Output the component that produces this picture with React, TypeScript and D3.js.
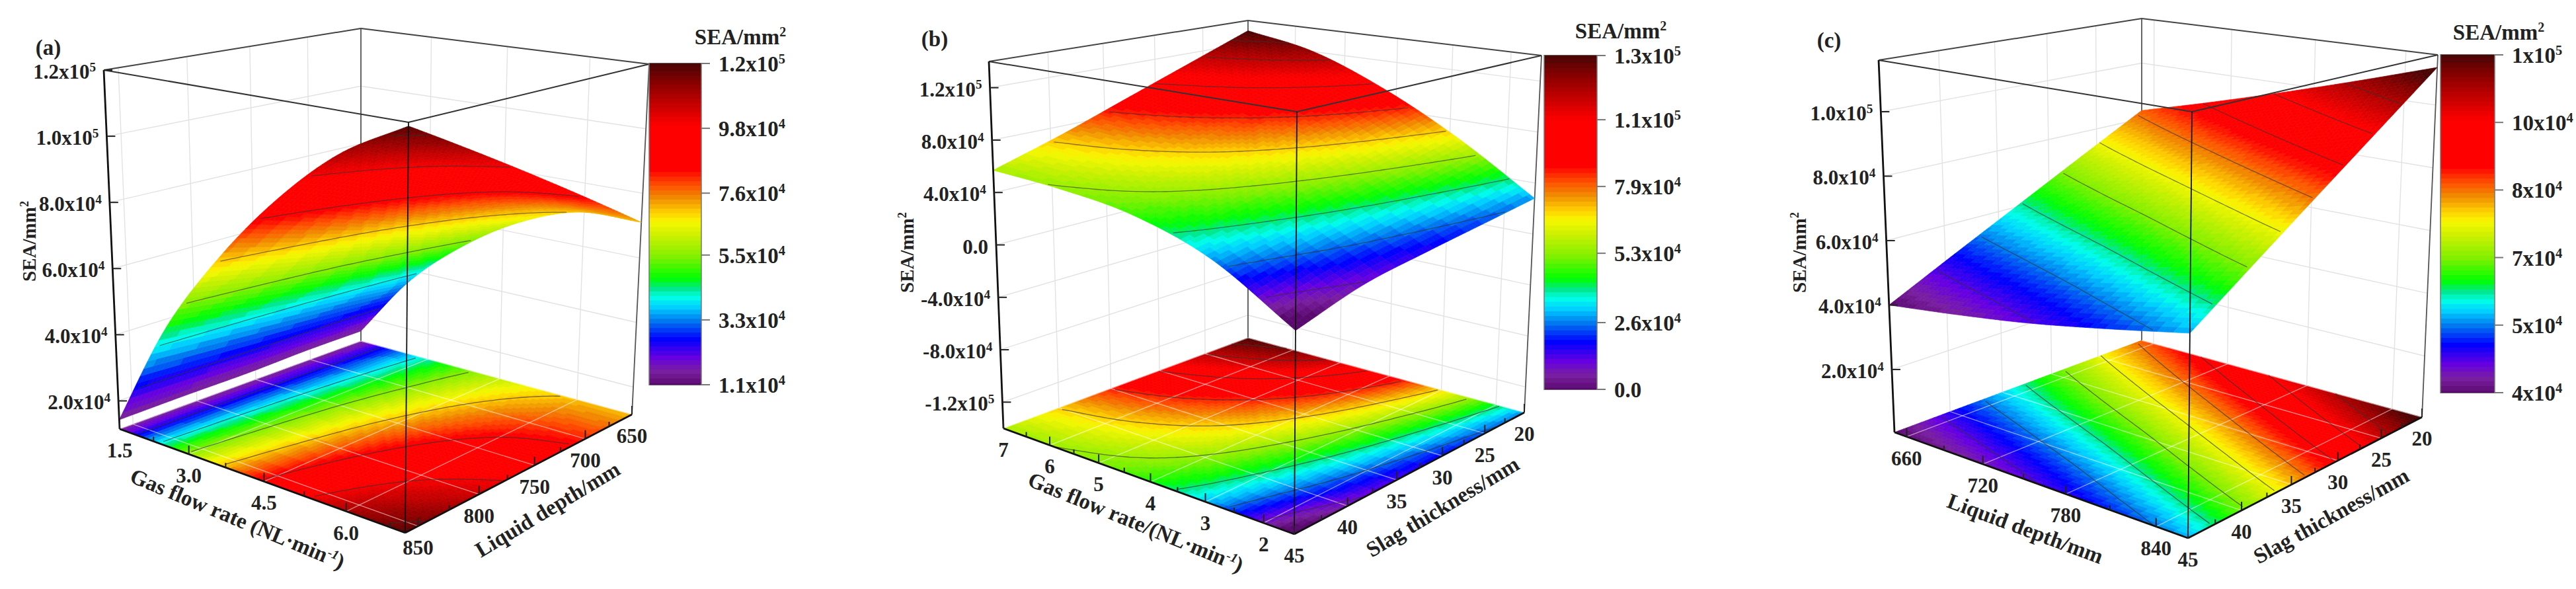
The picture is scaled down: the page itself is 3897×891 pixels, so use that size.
import React, { useEffect, useRef } from 'react';
import * as d3 from 'd3';

type Pt = [number, number];

// colour map
const colorStops = [0, 0.045, 0.086, 0.144, 0.2, 0.243, 0.274, 0.3, 0.333, 0.4, 0.463, 0.508, 0.538, 0.58, 0.628, 0.67, 0.806, 0.88, 0.95, 1];
const colorValues = ['#5a0a6e', '#7a1fa2', '#6600e0', '#0000ff', '#0078ef', '#00d0ff', '#00ffe8', '#00e890', '#00ff00', '#80f000', '#c8f000', '#f8f800', '#ffd000', '#f09000', '#ff4800', '#ff0000', '#ff0000', '#c00000', '#800000', '#4a0505'];

// panel (a)
const gasA = [1.5, 2.6, 3.7, 4.8, 5.9, 7];
const depthA = [650, 702.5, 755, 807.5, 860];
const seaA = [
  [1.5e4, 3.65e4, 5.2e4, 6.35e4, 7.05e4, 7.1e4],
  [1.5e4, 3.9e4, 5.65e4, 7.05e4, 7.95e4, 8.3e4],
  [1.45e4, 4.15e4, 6.15e4, 7.75e4, 8.9e4, 9.5e4],
  [1.45e4, 4.4e4, 6.6e4, 8.45e4, 9.85e4, 1.07e5],
  [1.43e4, 4.65e4, 7.1e4, 9.15e4, 1.08e5, 1.19e5],
];
const zTicksA = [2e4, 4e4, 6e4, 8e4, 1e5, 1.2e5];
const zLabelsA = ['2.0x10^4', '4.0x10^4', '6.0x10^4', '8.0x10^4', '1.0x10^5', '1.2x10^5'];
const levelsA = [2.5e4, 4e4, 5.5e4, 7e4, 8.5e4, 1e5, 1.15e5];
const barTicksA = [1.1e4, 3.3e4, 5.5e4, 7.6e4, 9.8e4, 1.2e5];
const barLabelsA = ['1.1x10^4', '3.3x10^4', '5.5x10^4', '7.6x10^4', '9.8x10^4', '1.2x10^5'];

// panel (b)
const gasB = [1.5, 2.875, 4.25, 5.625, 7];
const slagB = [20, 26.25, 32.5, 38.75, 45];
const seaB = [
  [2.8e4, 6.6e4, 9.7e4, 1.2e5, 1.31e5],
  [2.2e4, 5.6e4, 8.4e4, 1.02e5, 1.12e5],
  [1.6e4, 4.7e4, 7.1e4, 8.5e4, 9.3e4],
  [0.9e4, 3.8e4, 5.9e4, 6.9e4, 7.4e4],
  [-5e3, 2.9e4, 4.7e4, 5.4e4, 5.7e4],
];
const zTicksB = [-1.2e5, -8e4, -4e4, 0, 4e4, 8e4, 1.2e5];
const zLabelsB = ['-1.2x10^5', '-8.0x10^4', '-4.0x10^4', '0.0', '4.0x10^4', '8.0x10^4', '1.2x10^5'];
const levelsB = [1e4, 2.5e4, 4e4, 5.5e4, 7e4, 8.5e4, 1e5, 1.15e5, 1.25e5];
const barTicksB = [0, 2.6e4, 5.3e4, 7.9e4, 1.05e5, 1.3e5];
const barLabelsB = ['0.0', '2.6x10^4', '5.3x10^4', '7.9x10^4', '1.1x10^5', '1.3x10^5'];

// panel (c)
const depthC = [650, 702.5, 755, 807.5, 860];
const slagC = [20, 26.25, 32.5, 38.75, 45];
const seaC = [
  [8.3e4, 8.95e4, 9.65e4, 1.04e5, 1.12e5],
  [7.23e4, 7.79e4, 8.4e4, 9.08e4, 9.8e4],
  [6.15e4, 6.63e4, 7.15e4, 7.75e4, 8.4e4],
  [5.08e4, 5.46e4, 5.9e4, 6.43e4, 7.0e4],
  [4.0e4, 4.3e4, 4.65e4, 5.1e4, 5.6e4],
];
const zTicksC = [2e4, 4e4, 6e4, 8e4, 1e5];
const zLabelsC = ['2.0x10^4', '4.0x10^4', '6.0x10^4', '8.0x10^4', '1.0x10^5'];
const levelsC = [4.7e4, 5.4e4, 6.1e4, 6.8e4, 7.5e4, 8.2e4, 8.9e4, 9.6e4, 1.03e5];
const barTicksC = [4e4, 5.4e4, 6.8e4, 8.2e4, 9.6e4, 1.1e5];
const barLabelsC = ['4x10^4', '5x10^4', '7x10^4', '8x10^4', '10x10^4', '1x10^5'];

const panels = [
  {
    name: '(a)', namePos: [73, 73],
    xs: gasA, ys: depthA, sea: seaA, levels: levelsA,
    xDomain: [1.5, 7], yDomain: [860, 650], zDomain: [1.15e4, 1.2e5],
    xMajor: [1.5, 3, 4.5, 6], xMinor: [2.25, 3.75, 5.25, 6.75], xFmt: '.1f',
    yMajor: [650, 700, 750, 800, 850], yMinor: [675, 725, 775, 825], yFmt: 'd',
    zTicks: zTicksA, zLabels: zLabelsA,
    colorDomain: [1.1e4, 1.2e5], barTicks: barTicksA, barLabels: barLabelsA,
    bar: [982, 1061, 96, 582], barTitle: [1120, 57],
    L: [181, 649], F: [613, 806], R: [956, 627], B: [546, 516],
    tL: [157, 106], tF: [618, 185], tR: [982, 97], tB: [546, 43],
    xTitle: { at: [355, 795], rot: 22.5 }, yTitle: { text: 'Liquid depth/mm', at: [834, 780], rot: -31 }, zTitle: [54, 365],
    xText: 'Gas flow rate (NL·min',
  },
  {
    name: '(b)', namePos: [1414, 60],
    xs: gasB, ys: slagB, sea: seaB, levels: levelsB,
    xDomain: [7, 1.5], yDomain: [45, 20], zDomain: [-1.4e5, 1.4e5],
    xMajor: [7, 6, 5, 4, 3, 2], xMinor: [6.5, 5.5, 4.5, 3.5, 2.5], xFmt: 'd',
    yMajor: [20, 25, 30, 35, 40, 45], yMinor: [22.5, 27.5, 32.5, 37.5, 42.5], yFmt: 'd',
    zTicks: zTicksB, zLabels: zLabelsB,
    colorDomain: [0, 1.3e5], barTicks: barTicksB, barLabels: barLabelsB,
    bar: [2336, 2416, 84, 589], barTitle: [2452, 48],
    L: [1518, 648], F: [1958, 808], R: [2306, 624], B: [1888, 511],
    tL: [1496, 93], tF: [1962, 169], tR: [2332, 84], tB: [1888, 31],
    xTitle: { at: [1714, 800], rot: 22.3 }, yTitle: { text: 'Slag thickness/mm', at: [2188, 776], rot: -31 }, zTitle: [1382, 382],
    xText: 'Gas flow rate/(NL·min',
  },
  {
    name: '(c)', namePos: [2767, 62],
    xs: depthC, ys: slagC, sea: seaC, levels: levelsC,
    xDomain: [650, 860], yDomain: [45, 20], zDomain: [500, 1.16e5],
    xMajor: [660, 720, 780, 840], xMinor: [690, 750, 810], xFmt: 'd',
    yMajor: [20, 25, 30, 35, 40, 45], yMinor: [22.5, 27.5, 32.5, 37.5, 42.5], yFmt: 'd',
    zTicks: zTicksC, zLabels: zLabelsC,
    colorDomain: [4e4, 1.1e5], barTicks: barTicksC, barLabels: barLabelsC,
    bar: [3692, 3774, 83, 594], barTitle: [3780, 50],
    L: [2866, 654], F: [3310, 814], R: [3664, 631], B: [3240, 515],
    tL: [2842, 91], tF: [3316, 169], tR: [3688, 83], tB: [3240, 28],
    xTitle: { at: [3060, 810], rot: 20.4 }, yTitle: { text: 'Slag thickness/mm', at: [3532, 790], rot: -29 }, zTitle: [2732, 382],
    xText: 'Liquid depth/mm',
  },
];

const FONT = '"Liberation Serif", "Times New Roman", serif';
const MESH = 64;

// unit square -> quad, so the floor keeps the picture's perspective
const squareToQuad = (p0: Pt, p1: Pt, p2: Pt, p3: Pt) => {
  const sx = p0[0] - p1[0] + p2[0] - p3[0];
  const sy = p0[1] - p1[1] + p2[1] - p3[1];
  const dx1 = p1[0] - p2[0], dx2 = p3[0] - p2[0];
  const dy1 = p1[1] - p2[1], dy2 = p3[1] - p2[1];
  const det = dx1 * dy2 - dx2 * dy1;
  const g = (sx * dy2 - dx2 * sy) / det;
  const h = (dx1 * sy - sx * dy1) / det;
  const a = p1[0] - p0[0] + g * p1[0], b = p3[0] - p0[0] + h * p3[0];
  const d = p1[1] - p0[1] + g * p1[1], e = p3[1] - p0[1] + h * p3[1];
  return (u: number, v: number): Pt => {
    const w = g * u + h * v + 1;
    return [(a * u + b * v + p0[0]) / w, (d * u + e * v + p0[1]) / w];
  };
};

const spline = (vals: number[], t: number) => {
  const n = vals.length - 1;
  const i = Math.max(0, Math.min(n - 1, Math.floor(t)));
  const f = t - i;
  const p1 = vals[i], p2 = vals[i + 1];
  const p0 = i > 0 ? vals[i - 1] : 2 * p1 - p2;
  const p3 = i < n - 1 ? vals[i + 2] : 2 * p2 - p1;
  return 0.5 * (2 * p1 + (p2 - p0) * f + (2 * p0 - 5 * p1 + 4 * p2 - p3) * f * f + (3 * p1 - p0 - 3 * p2 + p3) * f * f * f);
};

// writes "1.2x10^5" as text with a raised exponent
const putLabel = (sel: any, label: string, size: number) => {
  const [base, exp] = label.split('^');
  sel.attr('font-size', size).text(null);
  sel.append('tspan').text(base);
  if (exp) sel.append('tspan').attr('font-size', size * 0.62).attr('dy', -size * 0.36).text(exp);
};

const drawPanel = (root: any, p: any) => {
  const g = root.append('g').attr('font-family', FONT).attr('font-weight', 'bold').attr('fill', '#222');
  const floorAt = squareToQuad(p.L, p.F, p.R, p.B);
  const topAt = squareToQuad(p.tL, p.tF, p.tR, p.tB);
  const project = (u: number, v: number, w: number): Pt => {
    const a = floorAt(u, v), b = topAt(u, v);
    return [a[0] + (b[0] - a[0]) * w, a[1] + (b[1] - a[1]) * w];
  };

  const uScale = d3.scaleLinear().domain(p.xDomain).range([0, 1]);
  const vScale = d3.scaleLinear().domain(p.yDomain).range([0, 1]);
  const wScale = d3.scaleLinear().domain(p.zDomain).range([0, 1]);
  const xIndex = d3.scaleLinear().domain(p.xs).range(d3.range(p.xs.length));
  const yIndex = d3.scaleLinear().domain(p.ys).range(d3.range(p.ys.length));

  const colorT = d3.scaleLinear().domain(p.colorDomain).range([0, 1]).clamp(true);
  const ramp = d3.scaleLinear<string>().domain(colorStops).range(colorValues).interpolate(d3.interpolateRgb);
  const color = (val: number) => ramp(Math.round(colorT(val) * 70) / 70);

  // surface values on the fine drawing mesh
  const n = MESH + 1;
  const grid = new Array(n * n);
  for (let j = 0; j < n; j++) {
    const yi = yIndex(vScale.invert(j / MESH));
    const col = p.xs.map((_: number, c: number) => spline(p.sea.map((r: number[]) => r[c]), yi));
    for (let i = 0; i < n; i++) grid[j * n + i] = spline(col, xIndex(uScale.invert(i / MESH)));
  }

  const line = d3.line();
  const wall = g.append('g');
  const edge = (a: Pt, b: Pt, stroke: string, width: number, parent = g) =>
    parent.append('path').attr('d', line([a, b])).attr('fill', 'none').attr('stroke', stroke).attr('stroke-width', width);

  // wall grid
  const gridColor = '#e2e2e2';
  p.zTicks.forEach((z: number) => {
    const w = wScale(z);
    edge(project(0, 0, w), project(0, 1, w), gridColor, 1.4, wall);
    edge(project(0, 1, w), project(1, 1, w), gridColor, 1.4, wall);
  });
  p.xMajor.forEach((x: number) => edge(project(uScale(x), 1, 0), project(uScale(x), 1, 1), gridColor, 1.4, wall));
  p.yMajor.forEach((y: number) => edge(project(0, vScale(y), 0), project(0, vScale(y), 1), gridColor, 1.4, wall));

  // back edges of the box
  edge(p.B, p.tB, '#444', 1.6);
  edge(p.tL, p.tB, '#444', 2);
  edge(p.tB, p.tR, '#444', 2);
  edge(p.R, p.tR, '#555', 1.8);

  const quad = (i: number, j: number, at: (u: number, v: number) => Pt) =>
    line([at(i / MESH, j / MESH), at((i + 1) / MESH, j / MESH), at((i + 1) / MESH, (j + 1) / MESH), at(i / MESH, (j + 1) / MESH)]) + 'Z';
  const cellValue = (i: number, j: number) =>
    (grid[j * n + i] + grid[j * n + i + 1] + grid[(j + 1) * n + i] + grid[(j + 1) * n + i + 1]) / 4;
  const contourLines = d3.contours().size([n, n]).smooth(true).thresholds(p.levels)(grid);

  const drawMesh = (at: (u: number, v: number) => Pt, stroke: string, width: number) => {
    const cells: [number, number][] = [];
    for (let i = 0; i < MESH; i++) for (let j = MESH - 1; j >= 0; j--) cells.push([i, j]);
    const layer = g.append('g');
    layer.selectAll('path').data(cells).join('path')
      .attr('d', (d: [number, number]) => quad(d[0], d[1], at))
      .attr('fill', (d: [number, number]) => color(cellValue(d[0], d[1])))
      .attr('stroke', (d: [number, number]) => color(cellValue(d[0], d[1])))
      .attr('stroke-width', 0.7);
    return (gridFn: () => void) => {
      gridFn();
      const lines: Pt[][] = [];
      contourLines.forEach((c: any) => c.coordinates.forEach((poly: any) => poly.forEach((ring: Pt[]) => {
        let run: Pt[] = [];
        ring.forEach((pt) => {
          if (pt[0] > 0.5 && pt[0] < n - 0.5 && pt[1] > 0.5 && pt[1] < n - 0.5) run.push(at((pt[0] - 0.5) / MESH, (pt[1] - 0.5) / MESH));
          else { if (run.length > 1) lines.push(run); run = []; }
        });
        if (run.length > 1) lines.push(run);
      })));
      g.append('g').selectAll('path').data(lines).join('path')
        .attr('d', (d: Pt[]) => line(d)).attr('fill', 'none').attr('stroke', stroke).attr('stroke-width', width);
    };
  };

  // floor map with its white grid and contours
  drawMesh((u, v) => project(u, v, 0), 'rgba(50,50,50,0.65)', 1.3)(() => {
    p.xMajor.forEach((x: number) => edge(project(uScale(x), 0, 0), project(uScale(x), 1, 0), 'rgba(255,255,255,0.5)', 1.4));
    p.yMajor.forEach((y: number) => edge(project(0, vScale(y), 0), project(1, vScale(y), 0), 'rgba(255,255,255,0.5)', 1.4));
  });

  // surface
  drawMesh((u, v) => {
    const i = Math.min(n - 2, Math.floor(u * MESH)), j = Math.min(n - 2, Math.floor(v * MESH));
    const fu = u * MESH - i, fv = v * MESH - j;
    const val = (grid[j * n + i] * (1 - fu) + grid[j * n + i + 1] * fu) * (1 - fv) + (grid[(j + 1) * n + i] * (1 - fu) + grid[(j + 1) * n + i + 1] * fu) * fv;
    return project(u, v, wScale(val));
  }, 'rgba(50,50,50,0.6)', 1.3)(() => {});

  // front edges and axes
  edge(p.tL, p.tF, '#333', 2);
  edge(p.tF, p.tR, '#333', 2);
  edge(p.F, p.tF, '#111', 1.8);
  edge(p.L, p.tL, '#111', 2.8);
  edge(p.L, p.F, '#111', 2.8);
  edge(p.F, p.R, '#111', 2.8);

  // ticks and labels
  p.zTicks.forEach((z: number, i: number) => {
    const at = project(0, 0, wScale(z));
    edge(at, [at[0] + 13, at[1]], '#222', 2);
    const t = g.append('text').attr('x', at[0] - 12).attr('y', at[1] + 13).attr('text-anchor', 'end');
    putLabel(t, p.zLabels[i], 31);
  });
  const axisTick = (at: Pt, len: number) => edge(at, [at[0], at[1] - len], '#222', 2);
  p.xMajor.forEach((x: number) => {
    const at = project(uScale(x), 0, 0);
    axisTick(at, 13);
    g.append('text').attr('x', at[0]).attr('y', at[1] + 43).attr('text-anchor', 'middle').attr('font-size', 31).text(d3.format(p.xFmt)(x));
  });
  p.xMinor.forEach((x: number) => axisTick(project(uScale(x), 0, 0), 7));
  p.yMajor.forEach((y: number) => {
    const at = project(1, vScale(y), 0);
    axisTick(at, 13);
    g.append('text').attr('x', at[0]).attr('y', at[1] + 43).attr('text-anchor', 'middle').attr('font-size', 31).text(d3.format(p.yFmt)(y));
  });
  p.yMinor.forEach((y: number) => axisTick(project(1, vScale(y), 0), 7));

  // axis titles
  const xT = g.append('text').attr('transform', `translate(${p.xTitle.at}) rotate(${p.xTitle.rot})`).attr('text-anchor', 'middle').attr('font-size', 33);
  xT.append('tspan').text(p.xText);
  if (p.xText.endsWith('min')) {
    xT.append('tspan').attr('font-size', 20).attr('dy', -11).attr('font-style', 'italic').text('-1');
    xT.append('tspan').attr('dy', 11).text(')');
  }
  g.append('text').attr('transform', `translate(${p.yTitle.at}) rotate(${p.yTitle.rot})`).attr('text-anchor', 'middle').attr('font-size', 33).text(p.yTitle.text);
  const zT = g.append('text').attr('transform', `translate(${p.zTitle}) rotate(-90)`).attr('text-anchor', 'middle').attr('font-size', 29);
  zT.append('tspan').text('SEA/mm');
  zT.append('tspan').attr('font-size', 18).attr('dy', -11).text('2');
  g.append('text').attr('x', p.namePos[0]).attr('y', p.namePos[1] + 10).attr('text-anchor', 'middle').attr('font-size', 33).text(p.name);

  // colour bar
  const [bx0, bx1, by0, by1] = p.bar;
  const barY = d3.scaleLinear().domain(p.colorDomain).range([by1, by0]);
  const bands = d3.range(0, 71).map((k) => k / 70);
  const bar = g.append('g');
  bar.selectAll('rect').data(bands).join('rect')
    .attr('x', bx0).attr('width', bx1 - bx0)
    .attr('y', (k: number) => by1 - (by1 - by0) * k - (by1 - by0) / 70 / 2)
    .attr('height', (by1 - by0) / 70 + 1)
    .attr('fill', (k: number) => ramp(k));
  bar.append('rect').attr('x', bx0).attr('y', by0 - 1).attr('width', bx1 - bx0).attr('height', by1 - by0 + 2)
    .attr('fill', 'none').attr('stroke', '#777').attr('stroke-width', 1.5);
  // white out the overshoot of the end bands
  bar.append('rect').attr('x', bx0 - 1).attr('y', by0 - 8).attr('width', bx1 - bx0 + 2).attr('height', 7).attr('fill', '#fff');
  bar.append('rect').attr('x', bx0 - 1).attr('y', by1 + 1).attr('width', bx1 - bx0 + 2).attr('height', 7).attr('fill', '#fff');
  p.barTicks.forEach((v: number, i: number) => {
    const y = barY(v);
    edge([bx1, y], [bx1 + 13, y], '#777', 2);
    const t = g.append('text').attr('x', bx1 + 26).attr('y', y + 12);
    putLabel(t, p.barLabels[i], 33);
  });
  const title = g.append('text').attr('x', p.barTitle[0]).attr('y', p.barTitle[1] + 10).attr('text-anchor', 'middle').attr('font-size', 33);
  title.append('tspan').text('SEA/mm');
  title.append('tspan').attr('font-size', 20).attr('dy', -12).text('2');
};

export default function App() {
  const svgRef = useRef<SVGSVGElement>(null);

  useEffect(() => {
    const svg = d3.select(svgRef.current);
    svg.selectAll('*').remove();
    panels.forEach((p) => drawPanel(svg, p));
  }, []);

  return (
    <svg
      ref={svgRef}
      width={3897}
      height={891}
      style={{ position: 'absolute', left: 0, top: 0, background: '#fff', display: 'block' }}
    />
  );
}
